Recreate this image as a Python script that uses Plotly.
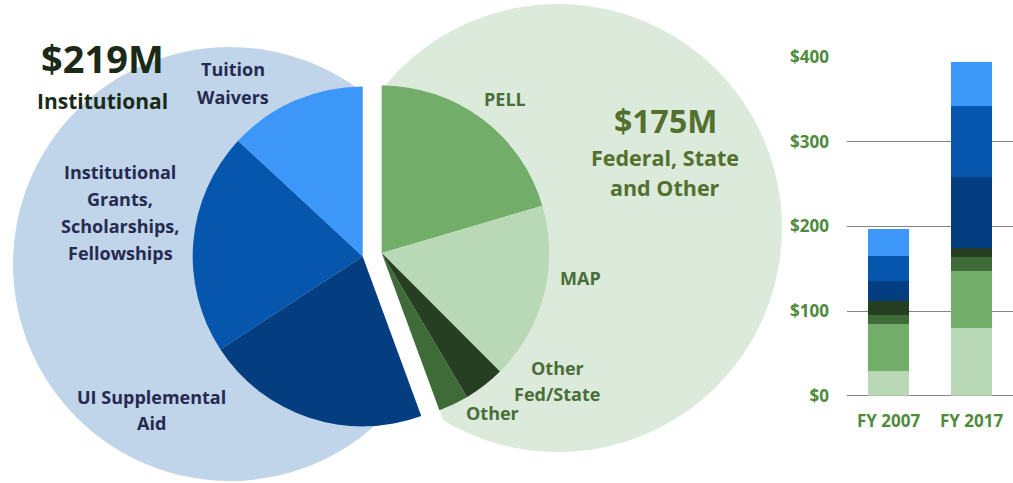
import math
import plotly.graph_objects as go

W, H = 1013, 483

# ---------------- data ----------------
green_labels = ["PELL", "MAP", "Other Fed/State", "Other"]
green_values = [80.5, 67.3, 15.7, 11.4]
blue_labels = ["UI Supplemental Aid", "Institutional Grants, Scholarships, Fellowships", "Tuition Waivers"]
blue_values = [84.2, 83.2, 51.6]

bar_categories = ["FY 2007", "FY 2017"]
bar_series = ["PELL", "MAP", "Other Fed/State", "Other",
              "UI Supplemental Aid", "Institutional Grants", "Tuition Waivers"]
fy2007 = [29.6, 55.2, 11.0, 15.8, 24.4, 29.2, 31.5]
fy2017 = [80.5, 67.3, 15.7, 11.4, 84.2, 83.2, 51.6]
y_ticks = [0, 100, 200, 300, 400]
y_tick_labels = ["$0", "$100", "$200", "$300", "$400"]

# ---------------- styles ----------------
FONT = "Open Sans"
green_pie_colors = ["#72ad6a", "#b9d8b5", "#263f22", "#3f6b39"]
blue_pie_colors = ["#043e80", "#0656ad", "#3d97f9"]
bar_colors = ["#b9d8b5", "#72ad6a", "#3f6b39", "#263f22", "#043e80", "#0656ad", "#3d97f9"]
CLEAR = "rgba(0,0,0,0)"
LIGHT_BLUE = "#c0d5ea"
LIGHT_GREEN = "#dceadb"
BLUE_TXT = "#262a50"
GREEN_TXT = "#4a6e38"
OLIVE_TXT = "#53702e"
DARK_TXT = "#1b2a17"
AXIS_TXT = "#4e8b3c"
GRID = "#858585"


def px(x):
    return x / W


def py(y):
    return 1 - y / H


# pie geometry (pixels)
O = (372.2, 254.7)
EXPLODE = 9.65
RG, RB = 167.5, 170.0
g_total, b_total = sum(green_values), sum(blue_values)
total = g_total + b_total
half = math.radians(180 * g_total / total)
ux, uy = math.sin(half), -math.cos(half)
G = (O[0] + EXPLODE * ux, O[1] + EXPLODE * uy)
B = (O[0] - EXPLODE * ux, O[1] - EXPLODE * uy)


def dom(c, r):
    return dict(x=[px(c[0] - r), px(c[0] + r)], y=[py(c[1] + r), py(c[1] - r)])


fig = go.Figure()

fig.add_trace(go.Pie(
    labels=green_labels + ["Institutional"], values=green_values + [b_total],
    marker=dict(colors=green_pie_colors + [CLEAR], line=dict(width=0)),
    sort=False, direction="clockwise", rotation=0, textinfo="none",
    hoverinfo="label+value", domain=dom(G, RG), showlegend=False))
fig.add_trace(go.Pie(
    labels=["Federal, State and Other"] + blue_labels, values=[g_total] + blue_values,
    marker=dict(colors=[CLEAR] + blue_pie_colors, line=dict(width=0)),
    sort=False, direction="clockwise", rotation=0, textinfo="none",
    hoverinfo="label+value", domain=dom(B, RB), showlegend=False))

for name, c, a, b in zip(bar_series, bar_colors, fy2007, fy2017):
    fig.add_trace(go.Bar(x=bar_categories, y=[a, b], name=name,
                         marker=dict(color=c, line=dict(width=0)),
                         showlegend=False))

# background circles and white separation band
shapes = [
    dict(type="circle", xref="paper", yref="paper", layer="below",
         x0=px(13), x1=px(447), y0=py(481), y1=py(47),
         fillcolor=LIGHT_BLUE, line=dict(width=0)),
    dict(type="circle", xref="paper", yref="paper", layer="below",
         x0=px(334), x1=px(782), y0=py(452), y1=py(4),
         fillcolor=LIGHT_GREEN, line=dict(width=0)),
]
end = math.radians(360 * g_total / total)
dx, dy = math.sin(end), -math.cos(end)
for (sx, sy), (ex, ey) in [
    ((O[0], O[1] + 12), (O[0], O[1] - 260)),
    ((O[0] - 12 * dx, O[1] - 12 * dy), (O[0] + 290 * dx, O[1] + 290 * dy)),
]:
    shapes.append(dict(type="line", xref="paper", yref="paper", layer="below",
                       x0=px(sx), y0=py(sy), x1=px(ex), y1=py(ey),
                       line=dict(color="white", width=2 * EXPLODE + 0.6)))

annos = []


def txt(t, x, y, size, color):
    annos.append(dict(text="<b>" + t + "</b>", x=px(x), y=py(y), xref="paper", yref="paper",
                      showarrow=False, xanchor="center", yanchor="middle",
                      font=dict(family=FONT, size=size, color=color)))


txt("$219M", 102, 58, 38, DARK_TXT)
txt("Institutional", 102, 101, 21, DARK_TXT)
txt("Tuition", 233, 69, 18, BLUE_TXT)
txt("Waivers", 233, 97, 18, BLUE_TXT)
for i, line in enumerate(["Institutional", "Grants,", "Scholarships,", "Fellowships"]):
    txt(line, 120, 172 + 27 * i, 18, BLUE_TXT)
txt("UI Supplemental", 151, 397, 18, BLUE_TXT)
txt("Aid", 151, 423, 18, BLUE_TXT)
txt("PELL", 505, 99, 18, GREEN_TXT)
txt("MAP", 580, 278, 18, GREEN_TXT)
txt("Other", 557, 368, 18, GREEN_TXT)
txt("Fed/State", 557, 394, 18, GREEN_TXT)
txt("Other", 492, 413, 18, GREEN_TXT)
txt("$175M", 665, 120, 32, OLIVE_TXT)
txt("Federal, State", 665, 157, 21.5, OLIVE_TXT)
txt("and Other", 665, 187, 21.5, OLIVE_TXT)

fig.update_layout(
    width=W, height=H, margin=dict(l=0, r=0, t=0, b=0, pad=0, autoexpand=False),
    paper_bgcolor="white", plot_bgcolor="rgba(0,0,0,0)",
    barmode="stack", bargap=0.5,
    shapes=shapes, annotations=annos,
    xaxis=dict(domain=[px(847), 1], range=[-0.5, 1.5], showgrid=False, zeroline=False,
               showline=False, ticks="", ticklabelstandoff=13, automargin=False,
               fixedrange=True,
               tickfont=dict(family=FONT, size=17, color=AXIS_TXT, weight="bold")),
    yaxis=dict(domain=[py(395.7), py(57.3)], range=[0, 400], tickvals=y_ticks,
               ticktext=y_tick_labels, showgrid=True, gridcolor=GRID, gridwidth=1.3,
               zeroline=True, zerolinecolor=GRID, zerolinewidth=1.3,
               showline=False, ticks="", ticklabelstandoff=17, automargin=False,
               fixedrange=True,
               tickfont=dict(family=FONT, size=17, color=AXIS_TXT, weight="bold")),
)

fig.write_html(
    "out.html",
    config={"displayModeBar": False},
    post_script="document.body.style.margin='0';document.body.style.overflow='hidden';",
)
